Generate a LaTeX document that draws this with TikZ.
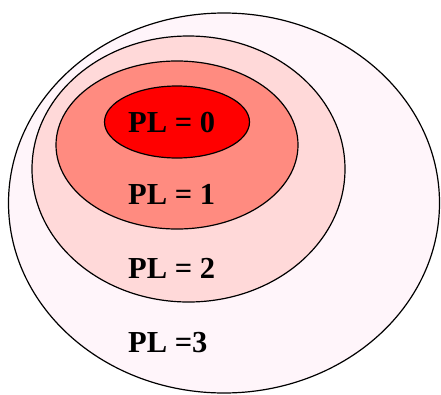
\documentclass[tikz,border=0pt]{standalone}
\usepackage{fontspec}
\setmainfont{Liberation Serif}
\definecolor{lvthree}{HTML}{FFF5FA}
\definecolor{lvtwo}{HTML}{FFD9D9}
\definecolor{lvone}{HTML}{FF8B80}
\definecolor{lvzero}{HTML}{FF0000}
\begin{document}
\begin{tikzpicture}[x=1pt,y=-1pt,
  ring/.style={draw=black,line width=1.2pt},
  lbl/.style={anchor=base west,inner sep=0pt,font=\fontsize{30.5}{31}\selectfont\bfseries}]
\useasboundingbox (0,0) rectangle (441,394);
\fill[white] (0,0) rectangle (441,394);
\draw[ring,fill=lvthree] (224,203) ellipse [x radius=215.5, y radius=190];
\draw[ring,fill=lvtwo] (188.5,169) ellipse [x radius=156.5, y radius=133];
\draw[ring,fill=lvone] (177,145) ellipse [x radius=121, y radius=84];
\draw[ring,fill=lvzero] (177,122) ellipse [x radius=72.5, y radius=36];
\node[lbl] (l0) at (128,132) {PL = 0};
\node[lbl] (l1) at (128,204) {PL = 1};
\node[lbl] (l2) at (128,278) {PL = 2};
\node[lbl] (l3) at (128,352) {PL =3};
\end{tikzpicture}
\end{document}
